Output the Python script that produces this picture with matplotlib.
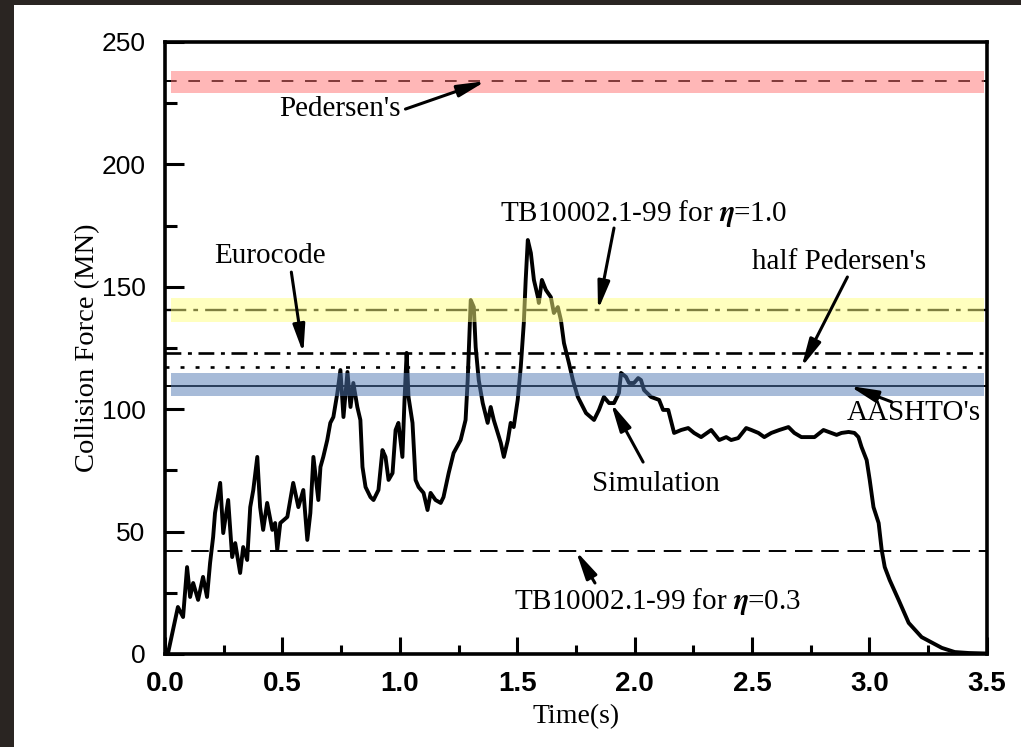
import matplotlib
matplotlib.use("Agg")
import matplotlib.pyplot as plt
from matplotlib.patches import Rectangle

plt.rcParams['mathtext.fontset'] = 'stix'

# simulated collision force
time_s = [0.0, 0.013, 0.034, 0.055, 0.077, 0.094, 0.107, 0.120, 0.141, 0.162, 0.179,
          0.192, 0.205, 0.213, 0.235, 0.248, 0.269, 0.286, 0.299, 0.320, 0.333,
          0.350, 0.363, 0.376, 0.393, 0.405, 0.418, 0.435, 0.457, 0.469, 0.478,
          0.491, 0.521, 0.546, 0.568, 0.589, 0.606, 0.619, 0.632, 0.653, 0.662,
          0.674, 0.691, 0.704, 0.717, 0.734, 0.747, 0.760, 0.777, 0.790, 0.802,
          0.819, 0.832, 0.841, 0.854, 0.875, 0.888, 0.909, 0.926, 0.939, 0.952,
          0.969, 0.982, 0.994, 1.011, 1.020, 1.029, 1.037, 1.054, 1.067, 1.080,
          1.101, 1.118, 1.131, 1.152, 1.174, 1.186, 1.208, 1.229, 1.259, 1.280,
          1.289, 1.302, 1.315, 1.323, 1.336, 1.353, 1.374, 1.387, 1.400, 1.430,
          1.443, 1.460, 1.472, 1.485, 1.502, 1.515, 1.528, 1.536, 1.545, 1.558,
          1.571, 1.588, 1.592, 1.605, 1.622, 1.643, 1.656, 1.673, 1.686, 1.699,
          1.720, 1.737, 1.758, 1.793, 1.827, 1.848, 1.869, 1.891, 1.912, 1.933,
          1.942, 1.963, 1.976, 1.997, 2.015, 2.027, 2.040, 2.070, 2.104, 2.121,
          2.143, 2.168, 2.198, 2.228, 2.253, 2.283, 2.326, 2.360, 2.390, 2.411,
          2.441, 2.475, 2.497, 2.527, 2.552, 2.582, 2.616, 2.655, 2.680, 2.710,
          2.740, 2.766, 2.804, 2.838, 2.860, 2.881, 2.911, 2.936, 2.953, 2.966,
          2.988, 3.001, 3.017, 3.039, 3.052, 3.065, 3.086, 3.124, 3.167, 3.222,
          3.308, 3.363, 3.423, 3.500]
force_mn = [0.0, 0.4, 9.8, 19.2, 15.1, 35.5, 23.3, 29.0, 22.1, 31.5, 23.3,
            37.2, 47.8, 57.6, 69.9, 49.4, 62.9, 39.6, 45.3, 33.1, 43.7,
            38.4, 60.0, 67.0, 80.5, 60.0, 50.7, 61.7, 50.7, 53.5, 42.5,
            53.5, 56.0, 69.9, 60.0, 67.0, 46.6, 57.6, 80.5, 62.9, 76.4,
            80.5, 87.4, 94.4, 96.8, 106.6, 116.0, 96.8, 115.2, 100.9, 110.7,
            100.9, 95.6, 76.4, 68.2, 64.1, 62.9, 67.0, 83.3, 80.5, 71.1,
            73.9, 91.5, 94.4, 80.5, 103.8, 123.0, 105.0, 94.4, 71.1, 68.2,
            65.8, 58.8, 65.8, 62.9, 61.7, 64.1, 73.9, 82.1, 87.4, 95.6,
            111.9, 144.6, 141.7, 125.4, 111.9, 102.5, 94.4, 100.9, 95.6, 86.2,
            80.5, 87.4, 94.4, 92.7, 103.8, 117.2, 135.2, 152.8, 169.1, 163.8,
            152.8, 145.8, 143.4, 152.8, 148.7, 145.8, 139.3, 141.7, 136.4, 127.0,
            118.9, 111.9, 105.0, 98.4, 95.6, 99.7, 105.0, 102.5, 102.5, 106.6,
            114.8, 113.2, 110.7, 110.7, 112.7, 111.9, 107.8, 105.0, 103.8, 99.7,
            99.7, 90.3, 91.5, 92.3, 90.3, 88.6, 91.5, 87.4, 88.6, 87.4,
            88.2, 92.3, 91.5, 90.3, 88.6, 90.3, 91.5, 92.7, 90.3, 88.6,
            88.6, 88.6, 91.5, 90.3, 89.5, 90.3, 90.7, 90.3, 88.6, 84.6,
            79.2, 71.1, 60.0, 53.5, 42.5, 35.5, 30.2, 22.1, 12.7, 6.9,
            2.5, 0.8, 0.4, 0.2]

# design code levels (MN)
pedersen = 234.0
tb_eta10 = 140.5
eurocode = 122.8
half_pedersen = 117.1
aashto = 109.5
tb_eta03 = 42.1

# shaded bands (low, high)
pink_band = (229.0, 238.3)
yellow_band = (135.6, 145.4)
blue_band = (105.4, 114.8)

fig = plt.figure(figsize=(10.21, 7.47), dpi=100, facecolor='#2a2522')
fig.patches.append(Rectangle((14 / 1021, 0), 1, 1 - 5 / 747, transform=fig.transFigure,
                             facecolor='white', edgecolor='none', zorder=-1))
ax = fig.add_axes([0.1616, 0.1245, 0.805, 0.8193])
ax.set_zorder(1)

ax.plot(time_s, force_mn, color='black', lw=2.8, zorder=3)

ax.axhline(pedersen, color='black', lw=1.4, dashes=(6, 6), zorder=2)
ax.axhline(tb_eta10, color='black', lw=1.7, dashes=(9, 3, 2, 3), zorder=2)
ax.axhline(eurocode, color='black', lw=1.9, dashes=(6, 2.5, 1.5, 2.5), zorder=2)
ax.axhline(half_pedersen, color='black', lw=1.9, dashes=(1.5, 4.2), zorder=2)
ax.axhline(aashto, color='black', lw=1.4, zorder=2)
ax.axhline(tb_eta03, color='black', lw=1.4, dashes=(9, 4.5), zorder=2)

band_x = [0.025, 3.487]
ax.fill_between(band_x, *pink_band, color='#ff7171', alpha=0.5, lw=0, zorder=4)
ax.fill_between(band_x, *yellow_band, color='#ffff80', alpha=0.5, lw=0, zorder=4)
ax.fill_between(band_x, *blue_band, color='#5179b3', alpha=0.5, lw=0, zorder=4)

serif = 'Liberation Serif'
fs = 21
arrow = dict(arrowstyle='-|>,head_width=0.3,head_length=1.4', color='black',
             lw=2.2, shrinkA=0, shrinkB=0, mutation_scale=12)

notes = [
    ("Pedersen's", (0.747, 222.6), (1.024, 222.6), (1.366, pedersen)),
    ("Eurocode", (0.448, 162.6), (0.538, 156.0), (0.589, eurocode)),
    ("TB10002.1-99 for $\\boldsymbol{\\eta}$=1.0", (2.04, 180.0), (1.912, 174.0), (1.844, tb_eta10)),
    ("half Pedersen's", (2.872, 160.0), (2.906, 154.0), (2.71, half_pedersen)),
    ("AASHTO's", (3.188, 98.4), (3.094, 103.0), (2.915, aashto)),
    ("Simulation", (2.091, 69.4), (2.036, 78.4), (1.899, 102.5)),
    ("TB10002.1-99 for $\\boldsymbol{\\eta}$=0.3", (2.096, 21.6), (1.831, 29.0), (1.75, tb_eta03)),
]
for label, txt, tail, head in notes:
    ax.text(txt[0], txt[1], label, family=serif, fontsize=fs, ha='center', va='center', zorder=5)
    ax.annotate('', xy=head, xytext=tail, arrowprops=arrow, zorder=5)

ax.set_xlim(0, 3.5)
ax.set_ylim(0, 250)
ax.set_xticks([0.0, 0.5, 1.0, 1.5, 2.0, 2.5, 3.0, 3.5])
ax.set_xticks([0.25, 0.75, 1.25, 1.75, 2.25, 2.75, 3.25], minor=True)
ax.set_yticks([0, 50, 100, 150, 200, 250])
ax.set_yticks([25, 75, 125, 175, 225], minor=True)
ax.set_xticklabels(['0.0', '0.5', '1.0', '1.5', '2.0', '2.5', '3.0', '3.5'],
                   fontsize=20, fontweight='bold', family='Liberation Sans')
ax.set_yticklabels(['0', '50', '100', '150', '200', '250'],
                   fontsize=19, family='Liberation Sans')

ax.tick_params(which='both', direction='in', top=False, right=False, width=2.2)
ax.tick_params(axis='x', which='major', length=12, pad=12)
ax.tick_params(axis='x', which='minor', length=6.5)
ax.tick_params(axis='y', which='major', length=14, pad=14)
ax.tick_params(axis='y', which='minor', length=8.5)
for s in ax.spines.values():
    s.set_linewidth(2.6)

ax.set_xlabel('Time(s)', family=serif, fontsize=20, labelpad=5)
ax.set_ylabel('Collision Force (MN)', family=serif, fontsize=20.5, labelpad=1)

fig.savefig('out.png', dpi=100, facecolor=fig.get_facecolor())
